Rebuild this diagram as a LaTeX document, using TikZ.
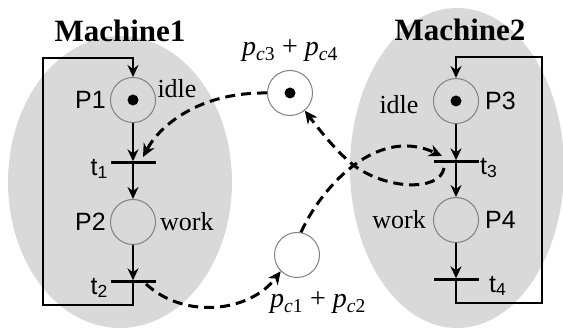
\documentclass[tikz,border=0pt]{standalone}
\usepackage{fontspec}
\setmainfont{Liberation Serif}
\setsansfont{Liberation Sans}
\usepackage{xcolor}
\definecolor{clMachine}{HTML}{D9D9D9}
\definecolor{clPlace}{HTML}{808080}
\usetikzlibrary{arrows.meta,positioning}
\tikzset{
  place/.style={circle, draw=clPlace, line width=1pt, minimum size=45pt, inner sep=0pt},
  token/.style={circle, fill=black, minimum size=11pt, inner sep=0pt},
  trans/.style={rectangle, fill=black, minimum width=45pt, minimum height=3pt, inner sep=0pt},
  machine/.style={font=\fontsize{31}{35}\selectfont\bfseries},
  seriflbl/.style={font=\fontsize{26}{30}\selectfont},
  sanslbl/.style={font=\sffamily\fontsize{25}{29}\selectfont},
  pclbl/.style={font=\fontsize{28}{32}\selectfont},
  arc/.style={-{Stealth[length=12pt, width=11pt, inset=4pt]}, line width=1.7pt},
  link/.style={-{Stealth[length=13pt, width=12pt, inset=4pt]}, line width=3pt,
               dash pattern=on 10pt off 6pt},
}

\begin{document}
\begin{tikzpicture}[x=1pt, y=-1pt, every node/.style={inner sep=0pt}]
  \useasboundingbox (0,0) rectangle (563,331);
  % machines
  \fill[clMachine] (120,182) ellipse [x radius=112, y radius=146];
  \fill[clMachine] (457,168) ellipse [x radius=107, y radius=160];
  \node[machine] (m1) at (120,31) {Machine1};
  \node[machine] (m2) at (460,30) {Machine2};
  % places
  \node[place] (P1) at (133,100) {};
  \node[place] (P2) at (133,222) {};
  \node[place] (P3) at (456,101) {};
  \node[place] (P4) at (456,220) {};
  \node[place] (Pc34) at (290,93) {};
  \node[place] (Pc12) at (297,255) {};
  \node[token] (k1) at (P1.center) {};
  \node[token] (k3) at (P3.center) {};
  \node[token] (k34) at (Pc34.center) {};
  % transitions
  \node[trans] (t1) at (133,163) {};
  \node[trans] (t2) at (133,282) {};
  \node[trans] (t3) at (456,162) {};
  \node[trans] (t4) at (456,280) {};
  % labels
  \node[sanslbl, left=4pt of P1] (P1lbl) {P1};
  \node[sanslbl, left=4pt of P2] (P2lbl) {P2};
  \node[sanslbl, right=6pt of P3] (P3lbl) {P3};
  \node[sanslbl, right=6pt of P4] (P4lbl) {P4};
  \node[seriflbl] (idle1) at (177,89) {idle};
  \node[seriflbl, right=4pt of P2] (work1) {work};
  \node[seriflbl] (idle2) at (399,105) {idle};
  \node[seriflbl, left=7pt of P4] (work2) {work};
  \node[sanslbl, anchor=east] (t1lbl) at (108,169) {t\textsubscript{1}};
  \node[sanslbl, anchor=east] (t2lbl) at (108,288) {t\textsubscript{2}};
  \node[sanslbl, anchor=west] (t3lbl) at (480,168) {t\textsubscript{3}};
  \node[sanslbl, anchor=west] (t4lbl) at (489,286) {t\textsubscript{4}};
  \node[pclbl, above=8pt of Pc34] (pc34lbl)
    {\textit{p}\textsubscript{\textit{c}3} + \textit{p}\textsubscript{\textit{c}4}};
  \node[pclbl] (pc12lbl) at (318,303)
    {\textit{p}\textsubscript{\textit{c}1} + \textit{p}\textsubscript{\textit{c}2}};
  % machine nets
  \coordinate (lb1) at (43,305);
  \coordinate (lt1) at (43,58);
  \coordinate (rb2) at (542,303);
  \coordinate (rt2) at (542,57);
  \draw[arc] (P1) -- (t1);
  \draw[arc] (t1.center) -- (P2);
  \draw[arc] (P2) -- (t2);
  \draw[arc] (t2.center) |- (lb1) -- (lt1) -| (P1.north);
  \draw[arc] (P3) -- (t3);
  \draw[arc] (t3.center) -- (P4);
  \draw[arc] (P4) -- (t4);
  \draw[arc] (t4.center) |- (rb2) -- (rt2) -| (P3.north);
  % shared places
  \coordinate (t1in) at (143,157);
  \coordinate (t2out) at (146,284);
  \coordinate (t3in) at (442,156);
  \coordinate (t3out) at (444,168);
  \coordinate (cross) at (352,164);
  \draw[link] (Pc34.west) .. controls (200,92) and (160,125) .. (t1in);
  \draw[link] (t2out) .. controls (185,320) and (250,312) .. (Pc12.south west);
  \draw[link] (Pc12.80) .. controls (320,190) and (375,125) .. (t3in);
  \draw[link] (t3out) .. controls (440,192) and (385,190) .. (cross)
    .. controls (335,150) and (318,128) .. (Pc34.-50);
\end{tikzpicture}
\end{document}
